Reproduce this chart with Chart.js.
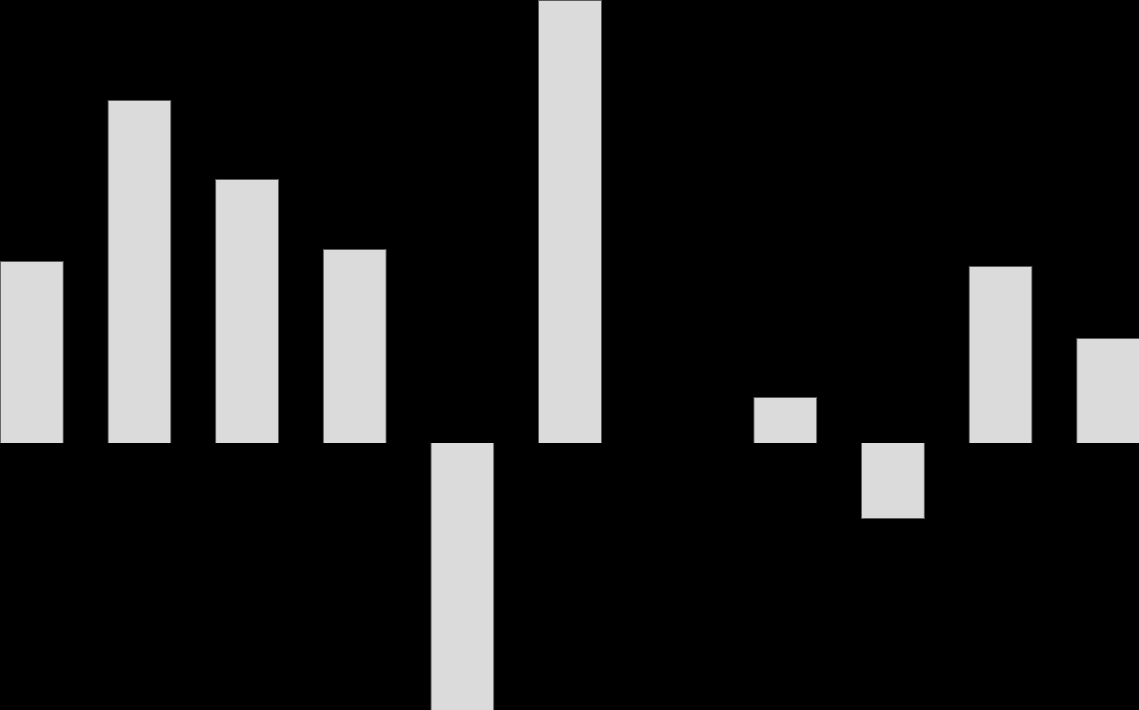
<!DOCTYPE html>
<html>
<head>
<meta charset="utf-8">
<script src="https://cdn.jsdelivr.net/npm/chart.js@4"></script>
<style>
  html, body { margin: 0; padding: 0; background: #000; overflow: hidden; }
  #wrap { position: absolute; left: -22px; top: 0; width: 1184px; height: 710px; }
</style>
</head>
<body>
<div id="wrap"><canvas id="barchart"></canvas></div>
<script>
const categorias = ['1', '2', '3', '4', '5', '6', '7', '8', '9', '10', '11'];
const valores = [18.2, 34.3, 26.4, 19.4, -28.0, 44.3, null, 4.6, -7.6, 17.7, 10.5];
const yMin = -26.7;
const yMax = 44.3;

let grafico;

function inicializarGrafico() {
    const ctx = document.getElementById('barchart').getContext('2d');
    grafico = new Chart(ctx, {
        type: 'bar',
        data: {
            labels: categorias,
            datasets: [{
                data: valores,
                backgroundColor: '#dcdbdb',
                borderColor: '#5a5a5a',
                borderWidth: 1,
                categoryPercentage: 1,
                barPercentage: 0.595
            }]
        },
        options: {
            responsive: true,
            maintainAspectRatio: false,
            animation: false,
            layout: { padding: 0 },
            plugins: { legend: { display: false }, tooltip: { enabled: false } },
            scales: {
                x: { display: false, offset: true },
                y: { display: false, min: yMin, max: yMax }
            }
        }
    });
}

inicializarGrafico();
</script>
</body>
</html>
